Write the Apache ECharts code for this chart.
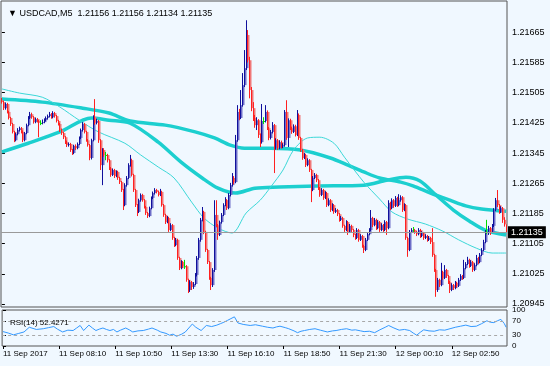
<!DOCTYPE html>
<html><head><meta charset="utf-8">
<script src="https://cdn.jsdelivr.net/npm/echarts@6/dist/echarts.min.js"></script>
<style>html,body{margin:0;padding:0;background:#F0F8FF;} #c{width:550px;height:366px;}</style>
</head><body><div id="c"></div>
<script>
// prices stored as points (0.00001) above 1.20000
const BASE = 1.2;
const OPEN0 = 1485;
const closePts = [
1480,1464,1475,1454,1438,1422,1401,1379,1395,1406,
1411,1401,1379,1398,1419,1438,1448,1440,1427,1435,
1430,1425,1425,1427,1432,1438,1443,1448,1440,1451,
1443,1430,1422,1406,1398,1387,1374,1366,1369,1353,
1345,1364,1358,1369,1385,1406,1422,1401,1379,1366,
1332,1379,1440,1425,1430,1379,1313,1353,1340,1340,
1326,1305,1287,1300,1284,1295,1279,1268,1247,1207,
1260,1279,1313,1326,1287,1247,1207,1189,1220,1234,
1220,1202,1186,1178,1199,1226,1239,1247,1242,1234,
1242,1207,1181,1162,1173,1141,1154,1120,1101,1115,
1067,1040,1056,1045,1045,1009,982,1003,990,998,
1022,1067,1115,1168,1189,1136,1088,1056,1014,995,
1035,1181,1154,1128,1162,1181,1207,1220,1199,1234,
1260,1279,1268,1379,1454,1438,1472,1525,1570,1658,
1591,1512,1464,1438,1419,1432,1393,1374,1430,1430,
1454,1411,1385,1401,1419,1358,1379,1358,1374,1362,
1366,1454,1385,1432,1411,1401,1416,1393,1446,1385,
1353,1332,1340,1313,1326,1300,1247,1279,1287,1273,
1252,1234,1247,1226,1239,1207,1220,1194,1207,1189,
1194,1183,1168,1173,1152,1141,1162,1136,1152,1141,
1128,1120,1141,1115,1125,1099,1088,1115,1130,1141,
1173,1154,1168,1146,1162,1141,1154,1141,1162,1146,
1213,1199,1220,1205,1226,1207,1220,1228,1194,1207,
1120,1088,1136,1141,1141,1136,1130,1141,1125,1133,
1120,1125,1115,1120,1109,1075,1035,982,1009,995,
1030,1014,1035,1019,1003,982,995,987,1001,993,
1009,1019,1014,1040,1051,1062,1046,1056,1035,1048,
1067,1056,1075,1088,1109,1136,1136,1146,1136,1152,
1194,1220,1207,1189,1199,1168,1156,1135];
const highPts = [
1491,1484,1479,1478,1457,1441,1425,1404,1399,1411,
1415,1414,1405,1401,1423,1443,1454,1452,1443,1439,
1438,1433,1432,1434,1437,1442,1447,1454,1451,1456,
1454,1446,1433,1425,1410,1401,1390,1378,1373,1372,
1356,1367,1368,1373,1389,1410,1427,1425,1404,1382,
1369,1383,1445,1488,1436,1433,1382,1358,1358,1348,
1343,1329,1308,1304,1303,1299,1298,1282,1271,1250,
1265,1284,1318,1340,1330,1290,1250,1210,1224,1238,
1237,1223,1205,1189,1203,1230,1243,1252,1250,1245,
1250,1245,1210,1184,1178,1176,1159,1157,1123,1120,
1118,1070,1061,1059,1062,1048,1012,1008,1006,1003,
1027,1072,1120,1173,1202,1192,1139,1091,1059,1017,
1040,1220,1220,1157,1166,1186,1212,1228,1223,1239,
1266,1292,1284,1393,1472,1462,1512,1557,1618,1697,
1671,1600,1520,1480,1446,1440,1435,1397,1475,1440,
1472,1458,1414,1406,1427,1422,1384,1382,1379,1378,
1371,1459,1485,1437,1436,1415,1421,1420,1459,1450,
1388,1356,1345,1343,1331,1329,1303,1284,1292,1290,
1276,1255,1252,1250,1244,1242,1225,1223,1212,1210,
1199,1197,1186,1178,1176,1155,1167,1165,1157,1155,
1144,1131,1146,1144,1130,1128,1102,1120,1135,1146,
1194,1176,1173,1171,1167,1165,1159,1157,1167,1165,
1220,1216,1225,1223,1231,1229,1236,1233,1231,1212,
1210,1123,1141,1146,1149,1144,1139,1146,1144,1138,
1136,1130,1128,1125,1123,1146,1078,1038,1014,1012,
1054,1033,1048,1038,1022,1006,1000,998,1006,1004,
1014,1024,1022,1062,1056,1070,1065,1061,1059,1053,
1075,1070,1080,1093,1115,1141,1168,1152,1149,1157,
1199,1226,1247,1210,1204,1202,1175,1156];
const lowPts = [
1476,1459,1460,1450,1434,1417,1397,1374,1376,1392,
1402,1397,1374,1376,1395,1416,1435,1436,1423,1424,
1426,1387,1419,1421,1424,1429,1434,1440,1436,1437,
1439,1426,1418,1401,1393,1382,1369,1361,1362,1348,
1340,1342,1353,1355,1366,1382,1402,1397,1375,1362,
1326,1328,1376,1420,1421,1372,1300,1260,1335,1326,
1320,1300,1282,1284,1279,1281,1274,1263,1242,1194,
1204,1256,1276,1309,1283,1242,1202,1178,1186,1216,
1216,1198,1181,1173,1175,1196,1223,1235,1238,1230,
1231,1203,1176,1157,1159,1136,1138,1115,1096,1098,
1062,1035,1037,1040,1038,1004,974,977,982,985,
995,1018,1062,1110,1164,1130,1083,1051,1009,982,
990,1030,1149,1115,1125,1158,1178,1204,1194,1196,
1230,1256,1262,1265,1375,1432,1435,1468,1520,1565,
1585,1490,1456,1430,1412,1406,1385,1361,1370,1422,
1426,1406,1379,1381,1397,1292,1354,1353,1355,1357,
1358,1362,1380,1361,1406,1396,1398,1389,1390,1380,
1348,1327,1329,1308,1310,1295,1215,1244,1276,1268,
1247,1229,1231,1221,1223,1202,1204,1189,1191,1184,
1186,1178,1163,1165,1147,1136,1138,1128,1133,1136,
1122,1115,1117,1110,1112,1094,1080,1085,1112,1127,
1138,1149,1151,1141,1143,1136,1138,1136,1138,1128,
1143,1194,1196,1200,1202,1202,1204,1216,1189,1191,
1115,1070,1085,1133,1136,1131,1125,1127,1120,1122,
1115,1117,1110,1112,1104,1070,1030,964,977,990,
992,1009,1011,1014,998,974,979,982,984,988,
990,1006,1009,1011,1037,1048,1041,1043,1030,1032,
1045,1051,1053,1072,1085,1106,1130,1128,1128,1133,
1149,1191,1202,1184,1186,1160,1150,1134];
// moving averages: [bar index, points]
const maSlow = [[0,1488],[23,1480],[46,1464],[61,1451],[73,1430],[93,1419],[110,1401],[121,1385],[130,1366],[138,1358],[153,1358],[170,1353],[187,1332],[197,1313],[206,1295],[215,1279],[227,1268],[234,1258],[244,1239],[255,1220],[264,1205],[273,1197],[287,1191]];
const maMid = [[0,1348],[15,1371],[33,1401],[51,1438],[61,1432],[73,1424],[89,1374],[102,1321],[114,1279],[123,1252],[133,1239],[144,1252],[158,1255],[179,1258],[206,1260],[219,1273],[230,1281],[238,1271],[247,1234],[257,1194],[266,1165],[275,1141],[287,1128]];
const maFast = [[0,1515],[10,1504],[23,1493],[33,1467],[44,1432],[55,1401],[70,1371],[79,1340],[89,1308],[98,1279],[108,1215],[115,1173],[123,1146],[131,1133],[139,1186],[147,1220],[153,1255],[160,1300],[166,1353],[174,1385],[181,1387],[189,1371],[195,1334],[206,1268],[215,1223],[222,1189],[231,1170],[241,1157],[251,1138],[260,1115],[270,1093],[279,1080],[287,1080]];
const rsi = [[0,40],[3,36],[6,31],[9,35],[12,39],[15,52],[19,46],[23,48],[26,51],[29,54],[31,47],[34,39],[37,44],[40,43],[42,50],[44,57],[46,43],[49,58],[51,50],[53,43],[55,47],[57,50],[59,46],[61,43],[63,46],[65,39],[67,44],[70,50],[72,45],[74,39],[77,42],[80,43],[83,47],[85,50],[88,44],[90,39],[93,35],[95,30],[97,33],[99,27],[102,33],[104,39],[106,50],[108,61],[110,52],[113,43],[116,57],[119,54],[122,58],[124,62],[126,66],[128,71],[130,76],[132,81],[134,64],[137,60],[141,57],[144,59],[148,55],[151,52],[154,50],[156,53],[158,55],[161,51],[163,48],[166,42],[168,37],[170,41],[172,43],[175,46],[178,48],[181,44],[185,39],[188,42],[190,43],[193,46],[196,48],[199,44],[201,45],[204,42],[206,40],[209,41],[212,37],[215,45],[218,52],[220,57],[223,50],[226,44],[229,46],[232,43],[234,36],[236,30],[238,38],[240,45],[243,42],[246,41],[249,45],[252,44],[255,48],[258,52],[261,55],[264,58],[267,54],[270,55],[273,62],[276,70],[278,66],[280,65],[282,70],[284,74],[286,62],[287,52]];
const priceTicks = [1.20945,1.21025,1.21105,1.21185,1.21265,1.21345,1.21425,1.21505,1.21585,1.21665];
const timeLabels = ['11 Sep 2017','11 Sep 08:10','11 Sep 10:50','11 Sep 13:30','11 Sep 16:10','11 Sep 18:50','11 Sep 21:30','12 Sep 00:10','12 Sep 02:50'];
const timeTickIdx = [0,32,64,96,128,160,192,224,256];
const lastPrice = 1.21135;
const headerText = '\u25BC USDCAD,M5  1.21156 1.21156 1.21134 1.21135';
const rsiText = 'RSI(14) 52.4271';
const rsiLevels = [70,30];
const rsiTicks = [0,30,70,100];

const FONT = 'Liberation Sans';
const P = v => +(BASE + v/1e5).toFixed(5);
const N = closePts.length;
const cats = closePts.map((_, i) => String(i));
const candles = closePts.map((c, i) => {
  const o = i ? closePts[i-1] : OPEN0;
  return [i, P(o), P(c), P(lowPts[i]), P(highPts[i])];
});
const toLine = arr => arr.map(d => [d[0], P(d[1])]);

function renderCandle(params, api){
  const i = api.value(0), o = api.value(1), c = api.value(2), l = api.value(3), h = api.value(4);
  const po = api.coord([i,o]), pc = api.coord([i,c]), pl = api.coord([i,l]), ph = api.coord([i,h]);
  const x = Math.round(po[0] - 0.5);
  let wick, body;
  if (o === c) { wick = '#00dd00'; body = '#00dd00'; }
  else if (c > o) { wick = '#10109c'; body = '#6e6ec8'; }
  else { wick = '#ff2020'; body = '#f07878'; }
  const top = Math.min(po[1], pc[1]);
  const bh = Math.max(1, Math.abs(po[1] - pc[1]));
  return {type:'group', children:[
    {type:'rect', shape:{x:x, y:top, width:2.5, height:bh}, style:{fill:body}},
    {type:'line', shape:{x1:x+0.5, y1:ph[1], x2:x+0.5, y2:pl[1]}, style:{stroke:wick, lineWidth:1}}
  ]};
}

const chart = echarts.init(document.getElementById('c'), null, {renderer:'canvas'});
chart.setOption({
  animation:false,
  backgroundColor:'#F0F8FF',
  textStyle:{fontFamily:FONT},
  title:[
    {text:headerText, left:3, top:4, textStyle:{fontSize:9, fontWeight:'normal', color:'#000', fontFamily:FONT}},
    {text:rsiText, left:5, top:314, textStyle:{fontSize:8, fontWeight:'normal', color:'#000', fontFamily:FONT}}
  ],
  grid:[
    {left:1, top:1, width:506, height:306, show:true, borderColor:'#555', borderWidth:1, backgroundColor:'transparent'},
    {left:1, top:310, width:506, height:36, show:true, borderColor:'#555', borderWidth:1, backgroundColor:'transparent'}
  ],
  xAxis:[
    {gridIndex:0, type:'category', data:cats, show:false, boundaryGap:true},
    {gridIndex:0, type:'value', min:-0.5, max:N-0.5, show:false},
    {gridIndex:1, type:'value', min:-0.5, max:N-0.5,
      axisLine:{show:false}, splitLine:{show:false},
      axisTick:{show:true, customValues:timeTickIdx, length:3, lineStyle:{color:'#000'}},
      axisLabel:{show:true, customValues:timeTickIdx, formatter:v => timeLabels[timeTickIdx.indexOf(v)], align:'left', margin:4, fontSize:8, color:'#000', fontFamily:FONT}}
  ],
  yAxis:[
    {gridIndex:0, type:'value', position:'right', min:1.20937, max:1.21748,
      axisLine:{show:false}, splitLine:{show:false},
      axisTick:{show:true, customValues:priceTicks, length:3, lineStyle:{color:'#000'}},
      axisLabel:{customValues:priceTicks, formatter:v => v.toFixed(5), fontSize:9, color:'#000', margin:5, fontFamily:FONT}},
    {gridIndex:1, type:'value', position:'right', min:0, max:100,
      axisLine:{show:false}, splitLine:{show:false},
      axisTick:{show:true, customValues:rsiTicks, length:3, lineStyle:{color:'#000'}},
      axisLabel:{customValues:rsiTicks, fontSize:8, color:'#000', margin:5, fontFamily:FONT}}
  ],
  series:[
    {type:'line', name:'MA slow', xAxisIndex:1, yAxisIndex:0, data:toLine(maSlow), smooth:0.3, showSymbol:false, z:2,
      lineStyle:{color:'#1ccfcf', width:3.5},
      markLine:{silent:true, symbol:'none', precision:5, z:5, data:[{yAxis:lastPrice}],
        lineStyle:{color:'#9a9a9a', width:1, type:'solid'},
        label:{show:true, position:'end', formatter:lastPrice.toFixed(5), backgroundColor:'#000', color:'#fff', padding:[2,3,1,3], fontSize:9, distance:1, fontFamily:FONT}}},
    {type:'line', name:'MA mid', xAxisIndex:1, yAxisIndex:0, data:toLine(maMid), smooth:0.3, showSymbol:false, z:2,
      lineStyle:{color:'#1ccfcf', width:3.5}},
    {type:'line', name:'MA fast', xAxisIndex:1, yAxisIndex:0, data:toLine(maFast), smooth:0.3, showSymbol:false, z:2,
      lineStyle:{color:'#3cd8d8', width:1}},
    {type:'custom', name:'USDCAD', xAxisIndex:0, yAxisIndex:0, renderItem:renderCandle, data:candles, z:3,
      encode:{x:0, y:[1,2,3,4]}, clip:true},
    {type:'line', name:'RSI', xAxisIndex:2, yAxisIndex:1, data:rsi, showSymbol:false, z:2,
      lineStyle:{color:'#3399ff', width:1},
      markLine:{silent:true, symbol:'none', precision:2, data:rsiLevels.map(v => ({yAxis:v})),
        lineStyle:{color:'#a8a8a8', width:1, type:[3,3]}, label:{show:false}}}
  ]
});
</script></body></html>
